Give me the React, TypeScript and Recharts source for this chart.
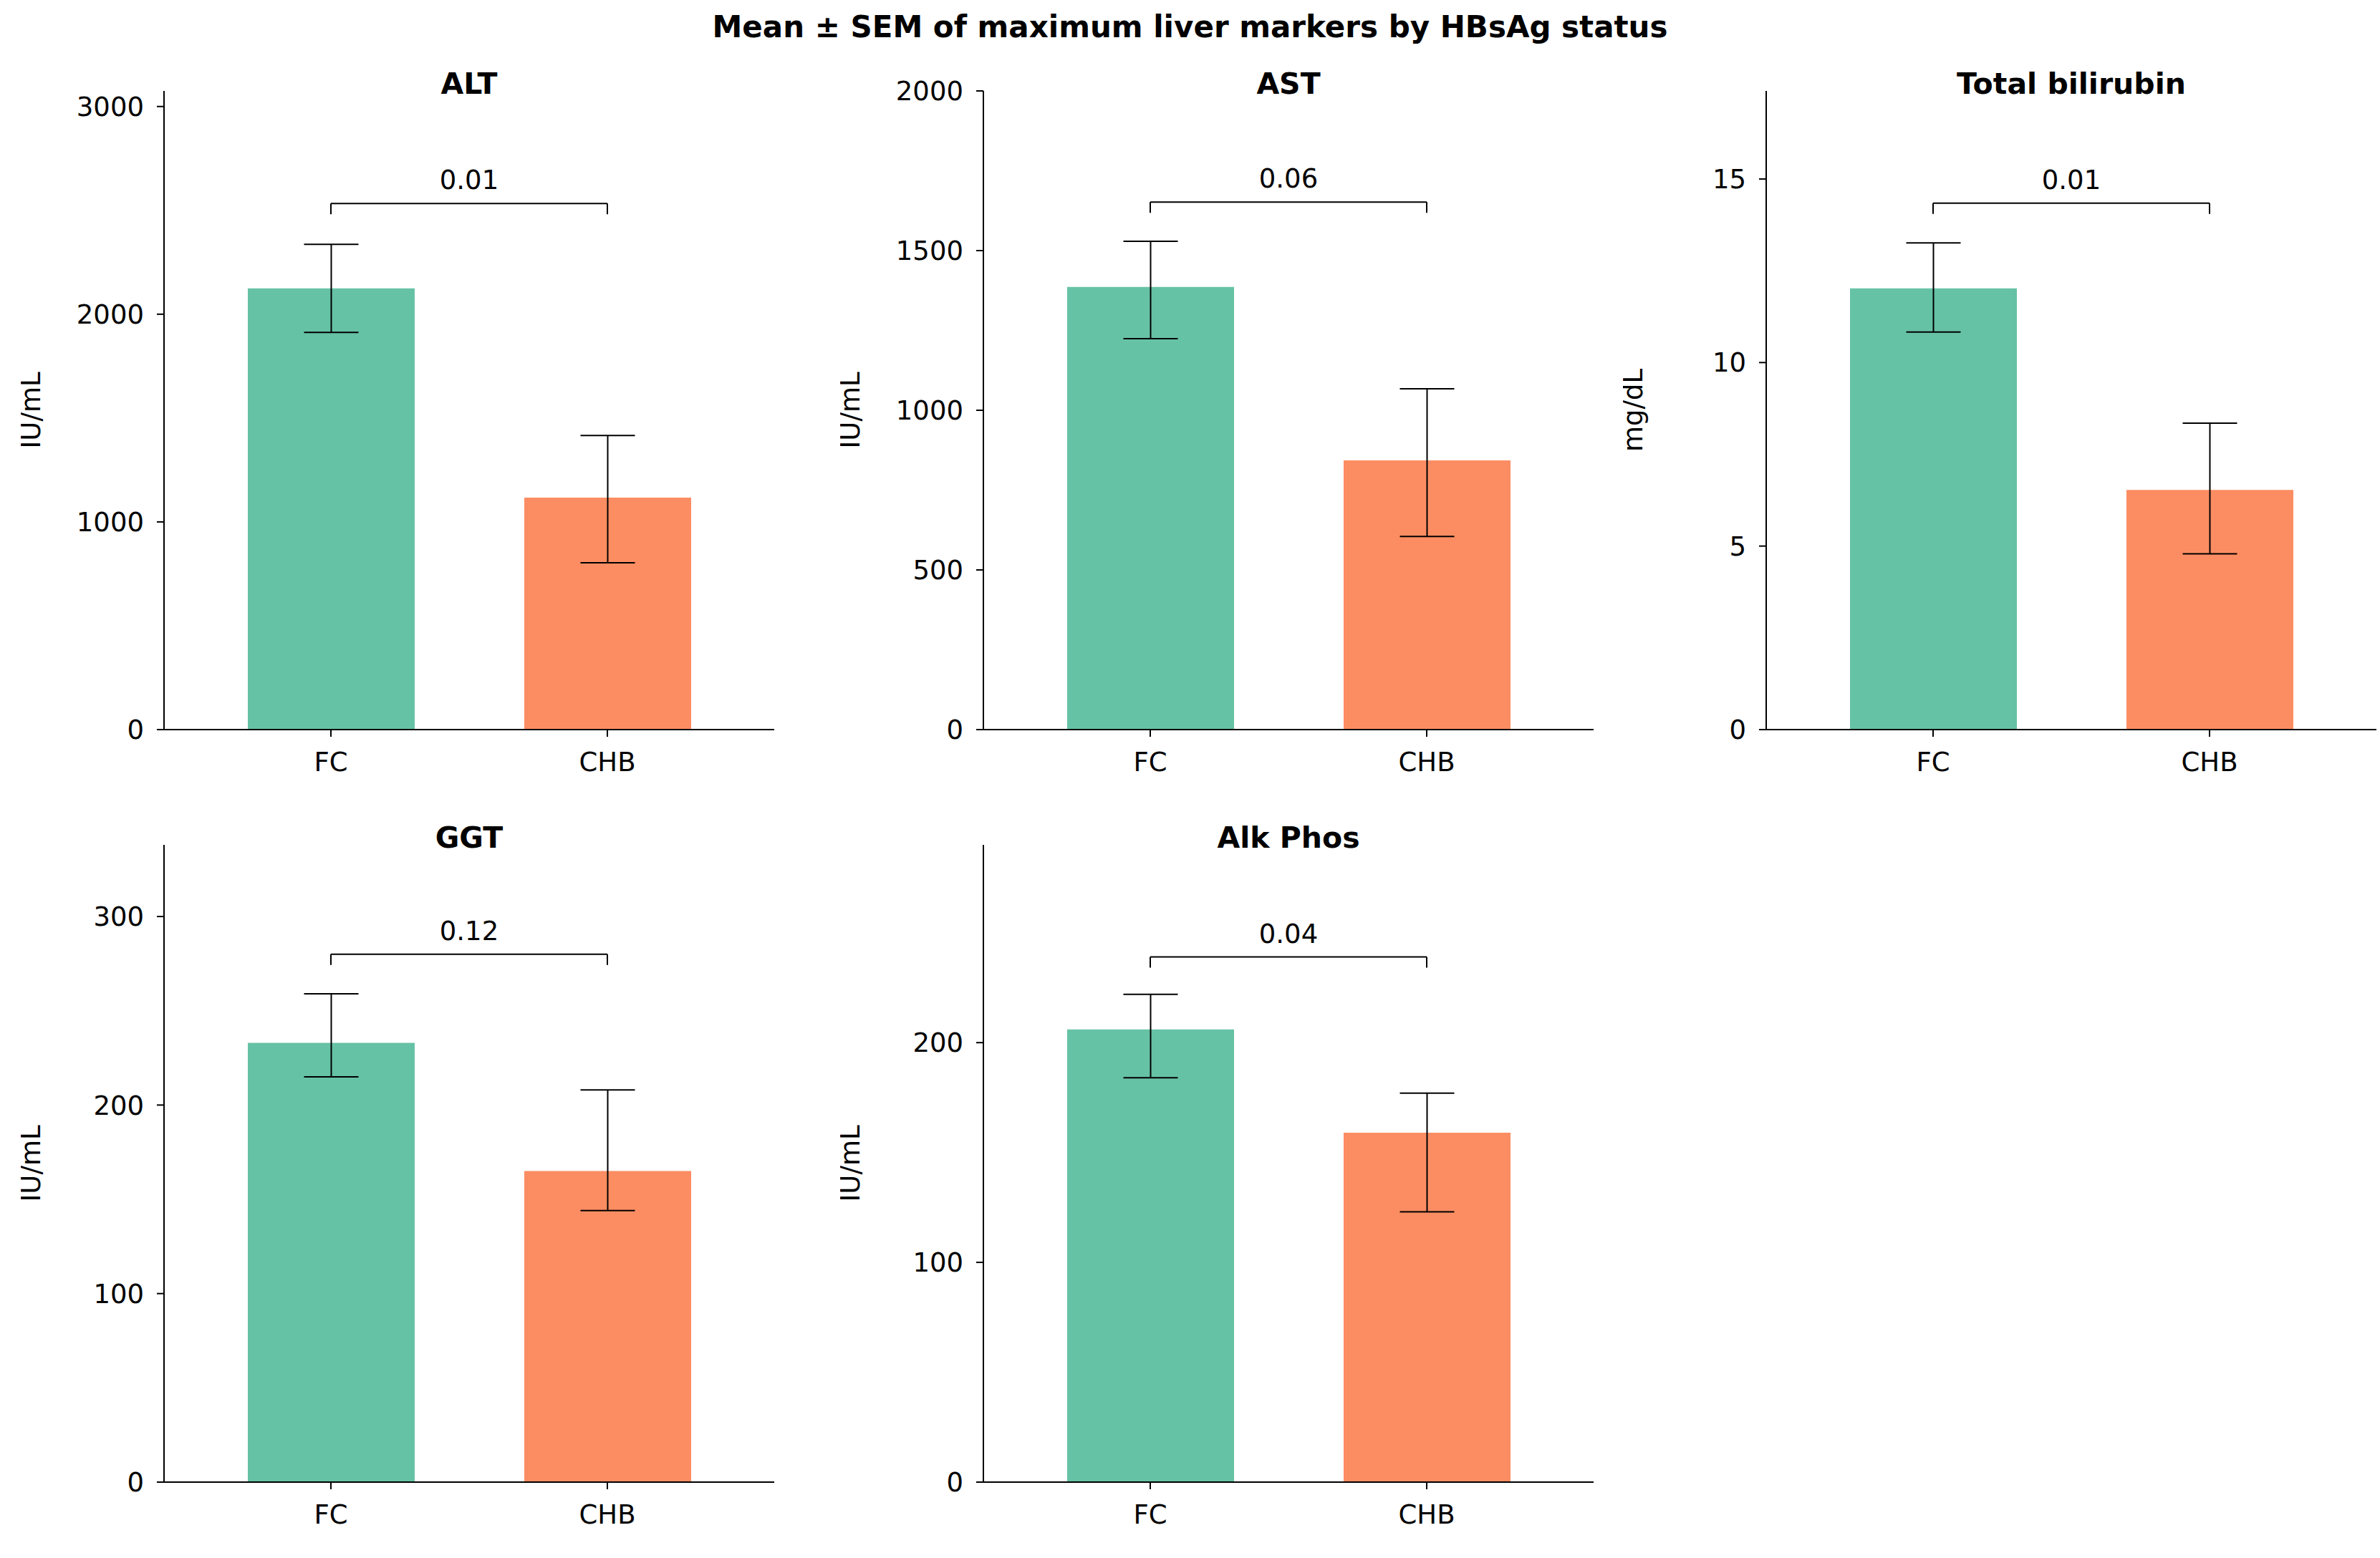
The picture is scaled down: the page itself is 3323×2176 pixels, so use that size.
import React from 'react';
import { BarChart, Bar, XAxis, YAxis, ErrorBar, ReferenceLine, Cell } from 'recharts';

const categories = ['FC', 'CHB'];
const colors = ['#66c2a5', '#fc8d62'];

const altMean = [2124, 1117];
const altErr = [[212, 212], [314, 299]];
const astMean = [1386, 843];
const astErr = [[162, 143], [238, 224]];
const biliMean = [12.02, 6.53];
const biliErr = [[1.19, 1.24], [1.74, 1.82]];
const ggtMean = [233, 165];
const ggtErr = [[18, 26], [21, 43]];
const alkMean = [206, 159];
const alkErr = [[22, 16], [36, 18]];

const pValues = ['0.01', '0.06', '0.01', '0.12', '0.04'];
const bracketY = [2533, 1652, 14.34, 280, 239];

const panels = [
  { title: 'ALT', unit: 'IU/mL', mean: altMean, err: altErr, max: 3075, ticks: [0, 1000, 2000, 3000], left: 229, top: 127, h: 892 },
  { title: 'AST', unit: 'IU/mL', mean: astMean, err: astErr, max: 2000, ticks: [0, 500, 1000, 1500, 2000], left: 1373, top: 127, h: 892 },
  { title: 'Total bilirubin', unit: 'mg/dL', mean: biliMean, err: biliErr, max: 17.4, ticks: [0, 5, 10, 15], left: 2466, top: 127, h: 892 },
  { title: 'GGT', unit: 'IU/mL', mean: ggtMean, err: ggtErr, max: 338, ticks: [0, 100, 200, 300], left: 229, top: 1180, h: 890 },
  { title: 'Alk Phos', unit: 'IU/mL', mean: alkMean, err: alkErr, max: 290, ticks: [0, 100, 200], left: 1373, top: 1180, h: 890 },
];

const FONT = 'DejaVu Sans, Verdana, sans-serif';
const PW = 852;
const YW = 200;
const MT = 100;
const XH = 100;
const FS = 37;

function Panel({ p, i }: any) {
  const data = categories.map((c, k) => ({ cat: c, v: p.mean[k], e: p.err[k] }));
  const by = bracketY[i];
  const d = (15 / p.h) * p.max;
  const tick = { fontSize: FS, fill: '#000', fontFamily: FONT };
  return (
    <div style={{ position: 'absolute', left: p.left - YW, top: p.top - MT }}>
      <div style={{ position: 'absolute', left: YW, width: PW, top: MT - 35, lineHeight: '50px', textAlign: 'center', fontWeight: 'bold', fontSize: 41, fontFamily: FONT, zIndex: 2 }}>{p.title}</div>
      <BarChart width={YW + PW + 20} height={MT + p.h + XH} data={data} margin={{ top: MT, left: 0, right: 20, bottom: 0 }}>
        <XAxis dataKey="cat" height={XH} padding={{ left: 40, right: 40 }} tick={tick} tickSize={10} tickMargin={22} stroke="#000" strokeWidth={2} />
        <YAxis width={YW} domain={[0, p.max]} ticks={p.ticks} tick={tick} tickSize={10} tickMargin={18} stroke="#000" strokeWidth={2} allowDataOverflow
          label={{ value: p.unit, angle: -90, position: 'insideLeft', offset: 14, style: { fontSize: FS, fill: '#000', fontFamily: FONT, textAnchor: 'middle' } }} />
        <Bar dataKey="v" barSize={233} isAnimationActive={false}>
          {data.map((_, k) => <Cell key={k} fill={colors[k]} />)}
          <ErrorBar dataKey="e" width={38} stroke="#000" strokeWidth={2} />
        </Bar>
        <ReferenceLine segment={[{ x: 'FC', y: by }, { x: 'CHB', y: by }]} stroke="#000" strokeWidth={2}
          label={{ value: pValues[i], position: 'top', offset: 20, fontSize: FS, fill: '#000', fontFamily: FONT }} />
        <ReferenceLine segment={[{ x: 'FC', y: by - d }, { x: 'FC', y: by }]} stroke="#000" strokeWidth={2} />
        <ReferenceLine segment={[{ x: 'CHB', y: by - d }, { x: 'CHB', y: by }]} stroke="#000" strokeWidth={2} />
      </BarChart>
    </div>
  );
}

export default function App() {
  return (
    <div style={{ position: 'absolute', left: 0, top: 0, width: 3323, height: 2176, background: '#fff', fontFamily: FONT }}>
      <div style={{ position: 'absolute', top: 12, width: 3323, lineHeight: '52px', textAlign: 'center', fontWeight: 'bold', fontSize: 42 }}>
        Mean ± SEM of maximum liver markers by HBsAg status
      </div>
      {panels.map((p, i) => <Panel key={i} p={p} i={i} />)}
    </div>
  );
}
